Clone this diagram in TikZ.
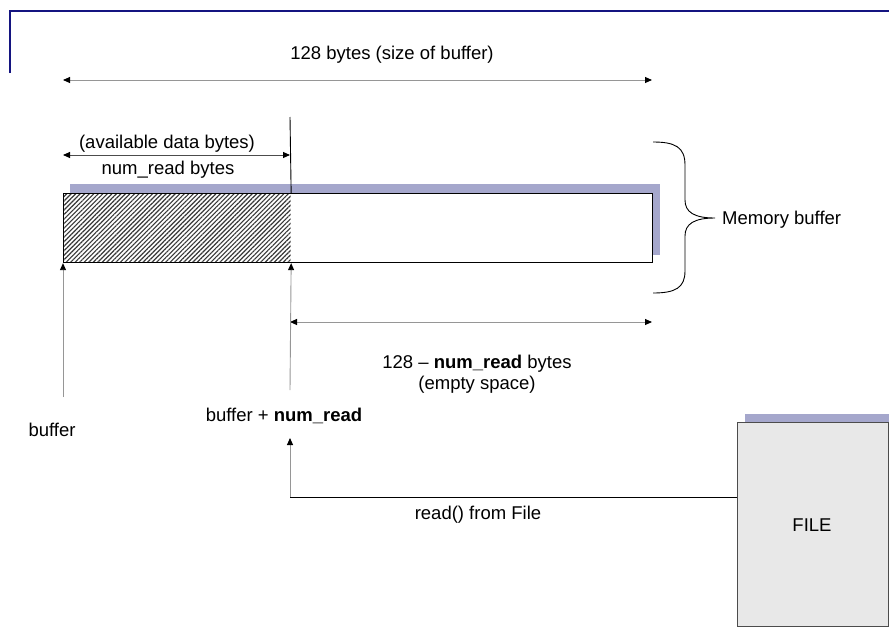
\documentclass[tikz,border=0pt]{standalone}
\usepackage{fontspec}
\setmainfont{Liberation Sans}
\usetikzlibrary{arrows.meta,patterns.meta,calc}

\definecolor{navyline}{RGB}{20,20,128}
\definecolor{shadowblue}{RGB}{165,167,204}
\definecolor{filegray}{RGB}{232,232,232}
\definecolor{dimgray}{RGB}{150,150,150}

\tikzset{
  tip/.style={-{Triangle[length=7pt,width=6pt,color=black]}},
  dimline/.style={{Triangle[length=7pt,width=6pt,color=black]}-{Triangle[length=7pt,width=6pt,color=black]}, draw=dimgray, line width=0.9pt},
  lbl/.style={inner sep=0pt, text height=13pt, text depth=0pt},
  shadowfill/.style={fill=shadowblue, draw=none},
  hatch/.style={pattern={Lines[angle=45,distance=3.2pt,line width=1.15pt]}, pattern color=black!78}
}

\begin{document}
\begin{tikzpicture}[x=1pt,y=-1pt, font=\fontsize{18.5}{21}\selectfont]
\useasboundingbox (0,0) rectangle (889,627);

% header rule
\draw[navyline, line width=2.5pt] (10,73) -- (10,11) -- (889,11);

% memory buffer with its shadow
\fill[shadowfill] (70,184) rectangle (660,255);
\node[draw, fill=white, line width=0.9pt, minimum width=589pt, minimum height=69pt, inner sep=0pt, anchor=north west] (mem) at (63,193) {};
\node[hatch, minimum width=227pt, minimum height=69pt, inner sep=0pt, anchor=north west] (used) at (63,193) {};
\draw[line width=0.9pt] (63,193) rectangle (652,262);

% boundary between used and free space
\coordinate (divtop) at (290,117);
\draw[line width=0.9pt] (divtop) -- (used.north east);

% total size
\coordinate (totL) at (63,80);
\coordinate (totR) at (652,80);
\draw[dimline] (totL) -- (totR);
\node[lbl] (t128) at (392,53) {128 bytes (size of buffer)};

% bytes read
\coordinate (rdL) at (63,155);
\coordinate (rdR) at (290,155);
\draw[dimline, draw=black!70] (rdL) -- (rdR);
\node[lbl] (avail) at (167,142) {(available data bytes)};
\node[lbl] (nrb) at (168,168) {num\_read bytes};

% free space
\coordinate (frL) at (290,322);
\coordinate (frR) at (652,322);
\draw[dimline] (frL) -- (frR);
\node[lbl] (empty) at (477,362) {128 – \textbf{num\_read} bytes};
\node[lbl] (emptysp) at (477,383) {(empty space)};

% brace
\draw[line width=0.9pt] (653,142) .. controls (675,142) and (685,147) .. (685,165)
  -- (685,200) .. controls (685,212) and (694,218) .. (715,218)
  .. controls (694,218) and (685,224) .. (685,236)
  -- (685,271) .. controls (685,288) and (675,293) .. (653,293);
\node[lbl, anchor=west] (membuf) at (722,218) {Memory buffer};

% pointers
\node[lbl] (buf) at (52,430) {buffer};
\node[lbl] (bnr) at (284,415) {buffer + \textbf{num\_read}};
\coordinate (bufp) at (63,397);
\coordinate (bnrp) at (290,390);
\draw[tip, draw=dimgray, line width=0.9pt] (bufp) -- (used.south west);
\draw[tip, draw=dimgray, line width=0.9pt] (bnrp) -- (used.south east);

% file
\fill[shadowfill] (745,414) rectangle (889,422);
\node[draw=black!70, fill=filegray, line width=1pt, minimum width=151pt, minimum height=204pt, inner sep=0pt, anchor=north west] (file) at (737,422) {};
\node[lbl] (filelbl) at (812,525) {FILE};

% read() into the buffer
\coordinate (corner) at (290,497);
\coordinate (rdtip) at (290,438);
\draw[line width=0.9pt] ($(file.north west)+(0,75)$) -- (corner);
\draw[tip, draw=dimgray, line width=0.9pt] (corner) -- (rdtip);
\node[lbl] (rdf) at (478,513) {read() from File};
\end{tikzpicture}
\end{document}
